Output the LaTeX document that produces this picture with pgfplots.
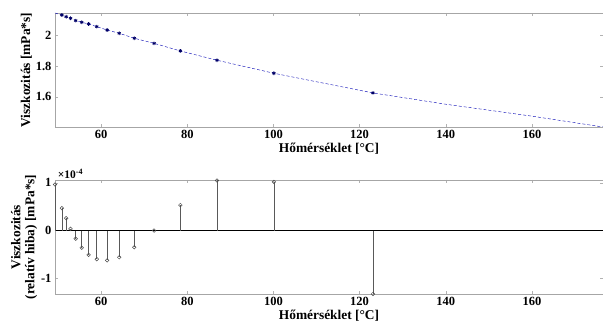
\documentclass[border=0pt]{standalone}
\usepackage{fontspec}
\setmainfont{Liberation Serif}
\usepackage{pgfplots}
\pgfplotsset{compat=1.18}
\begin{document}
\begin{tikzpicture}[x=1pt,y=1pt]
\useasboundingbox (0,0) rectangle (603,332);
\pgfplotsset{
  myax/.style={
    scale only axis, width=548pt, height=114pt,
    anchor=south west,
    xmin=49.3, xmax=176.5,
    xtick={60,80,100,120,140,160},
    tick align=inside, major tick length=3pt,
    axis line style={gray!70}, tick style={gray!60},
    every tick label/.append style={font=\bfseries\fontsize{12.5}{13}\selectfont},
    /pgf/number format/assume math mode=true,
    xlabel={Hőmérséklet [°C]},
    label style={font=\bfseries\fontsize{13.4}{14}\selectfont},
    xlabel style={yshift=3pt},
  }
}
\begin{axis}[myax, at={(55pt,205pt)},
  ymin=1.406, ymax=2.142, ytick={1.6,1.8,2}, yticklabels={1.6,1.8,2},
  ylabel={Viszkozitás [mPa*s]}, ylabel style={yshift=-3pt}]
\addplot[blue!70!black, densely dashed, line width=0.4pt] coordinates {
(49.3,2.142)(50.9,2.129)(51.9,2.118)(52.9,2.108)(54.1,2.093)(55.5,2.082)(57.1,2.071)(59.0,2.054)(61.4,2.032)(64.2,2.011)(67.7,1.979)(72.3,1.946)(78.4,1.897)(86.9,1.837)(100.1,1.753)(110,1.698)(123.1,1.626)(140,1.553)(160,1.476)(176.5,1.406)};
\addplot[only marks, mark=asterisk, mark size=1.8pt, color=blue!40!black, thick] coordinates {
(50.9,2.129)(51.9,2.118)(52.9,2.108)(54.1,2.093)(55.5,2.082)(57.1,2.071)(59.0,2.054)(61.4,2.032)(64.2,2.011)(67.7,1.979)(72.3,1.946)(78.4,1.897)(86.9,1.837)(100.1,1.753)(123.1,1.626)};
\end{axis}
\begin{axis}[myax, at={(55pt,38pt)},
  ymin=-1.33, ymax=1.06, ytick={-1,0,1}, yticklabels={-1,0,1},
  ylabel={Viszkozitás\\(relatív hiba) [mPa*s]},
  ylabel style={align=center, yshift=-3pt},
  clip=false]
\addplot[black, line width=1pt] coordinates {(49.3,0)(176.5,0)};
\addplot[ycomb, black!65, line width=0.6pt, mark=o, mark size=1.8pt, mark options={black!70, line width=0.5pt}] coordinates {
(49.3,0.965)(50.9,0.47)(51.9,0.26)(52.9,0.035)(54.1,-0.17)(55.5,-0.36)(57.1,-0.51)(59.0,-0.60)(61.4,-0.625)(64.2,-0.56)(67.7,-0.35)(72.3,0.0)(78.4,0.535)(86.9,1.05)(100.1,1.02)(123.1,-1.33)};
\node[anchor=south west, inner sep=0pt, font=\bfseries\fontsize{11.5}{12}\selectfont] at (rel axis cs:0.005,1.01) {×10\textsuperscript{-4}};
\end{axis}
\end{tikzpicture}
\end{document}
